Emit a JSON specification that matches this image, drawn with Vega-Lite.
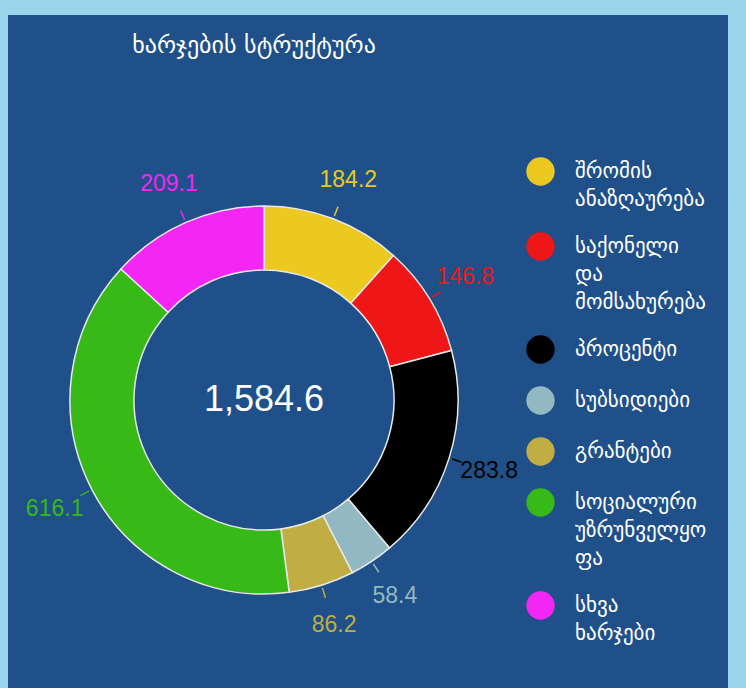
{
  "$schema": "https://vega.github.io/schema/vega-lite/v6.json",
  "background": "#99d6eb",
  "padding": {"left": 8, "top": 15, "right": 18, "bottom": 0},
  "config": {"view": {"fill": "#1f5089", "stroke": null}, "concat": {"spacing": 0}},
  "datasets": {
    "spend": [
      {"n": 1, "category": "შრომის ანაზღაურება", "value": 184.2},
      {"n": 2, "category": "საქონელი და მომსახურება", "value": 146.8},
      {"n": 3, "category": "პროცენტი", "value": 283.8},
      {"n": 4, "category": "სუბსიდიები", "value": 58.4},
      {"n": 5, "category": "გრანტები", "value": 86.2},
      {"n": 6, "category": "სოციალური უზრუნველყოფა", "value": 616.1},
      {"n": 7, "category": "სხვა ხარჯები", "value": 209.1}
    ],
    "heading": [{"title": "ხარჯების სტრუქტურა"}]
  },
  "hconcat": [
    {
      "vconcat": [
        {
          "width": 512,
          "height": 97,
          "view": {"fill": "#1f5089", "stroke": null},
          "data": {"name": "heading"},
          "mark": {"type": "text", "font": "DejaVu Sans", "fontSize": 24, "color": "#ffffff", "dy": -18, "dx": -10},
          "encoding": {"text": {"field": "title", "type": "nominal"}}
        },
        {
          "width": 512,
          "height": 576,
          "view": {"fill": "#1f5089", "stroke": null},
          "data": {"name": "spend"},
          "layer": [
            {
              "mark": {"type": "arc", "innerRadius": 130, "outerRadius": 194, "stroke": "#e8e8e8", "strokeWidth": 1.5},
              "encoding": {
                "theta": {"field": "value", "type": "quantitative", "stack": true},
                "order": {"field": "n", "type": "quantitative"},
                "color": {
                  "field": "category", "type": "nominal", "legend": null,
                  "scale": {
                    "domain": ["შრომის ანაზღაურება", "საქონელი და მომსახურება", "პროცენტი", "სუბსიდიები", "გრანტები", "სოციალური უზრუნველყოფა", "სხვა ხარჯები"],
                    "range": ["#ebc920", "#ee1616", "#000000", "#92b9c1", "#c0ae45", "#37b917", "#f326f3"]
                  }
                }
              }
            },
            {
              "mark": {"type": "arc", "innerRadius": 197, "outerRadius": 207, "padAngle": 1.5094, "filled": false, "strokeWidth": 1.5},
              "encoding": {
                "theta": {"field": "value", "type": "quantitative", "stack": true},
                "order": {"field": "n", "type": "quantitative"},
                "color": {"field": "category", "type": "nominal", "legend": null}
              }
            },
            {
              "mark": {"type": "text", "radius": 236, "font": "Liberation Sans", "fontSize": 23},
              "encoding": {
                "theta": {"field": "value", "type": "quantitative", "stack": true},
                "order": {"field": "n", "type": "quantitative"},
                "text": {"field": "value", "type": "quantitative", "format": ".1f"},
                "color": {"field": "category", "type": "nominal", "legend": null}
              }
            },
            {
              "transform": [{"aggregate": [{"op": "sum", "field": "value", "as": "total"}]}],
              "mark": {"type": "text", "font": "Liberation Sans", "fontSize": 36, "color": "#ffffff"},
              "encoding": {"text": {"field": "total", "type": "quantitative", "format": ",.1f"}}
            }
          ]
        }
      ],
      "spacing": 0
    },
    {
      "width": 208,
      "height": 673,
      "view": {"fill": "#1f5089", "stroke": null},
      "data": {"name": "spend"},
      "mark": {"type": "text", "text": ""},
      "encoding": {
        "color": {
          "field": "category", "type": "nominal", "sort": null,
          "scale": {
            "domain": ["შრომის ანაზღაურება", "საქონელი და მომსახურება", "პროცენტი", "სუბსიდიები", "გრანტები", "სოციალური უზრუნველყოფა", "სხვა ხარჯები"],
            "range": ["#ebc920", "#ee1616", "#000000", "#92b9c1", "#c0ae45", "#37b917", "#f326f3"]
          },
          "legend": {
            "orient": "none", "legendX": 6, "legendY": 142, "title": null, "padding": 0,
            "symbolType": "circle", "symbolSize": 804, "symbolStrokeWidth": 0, "symbolOpacity": 1,
            "labelFont": "DejaVu Sans", "labelFontSize": 21, "labelColor": "#ffffff",
            "labelOffset": 20, "labelLimit": 135, "labelBaseline": "top", "rowPadding": 22,
            "labelExpr": "datum.label == 'სოციალური უზრუნველყოფა' ? ['სოციალური', 'უზრუნველყო', 'ფა'] : split(datum.label, ' ')",
            "encode": {"labels": {"update": {"lineHeight": {"value": 28}, "dy": {"value": -11}, "ellipsis": {"value": ""}}}}
          }
        }
      }
    }
  ],
  "spacing": 0,
  "resolve": {"scale": {"color": "independent"}, "legend": {"color": "independent"}}
}
